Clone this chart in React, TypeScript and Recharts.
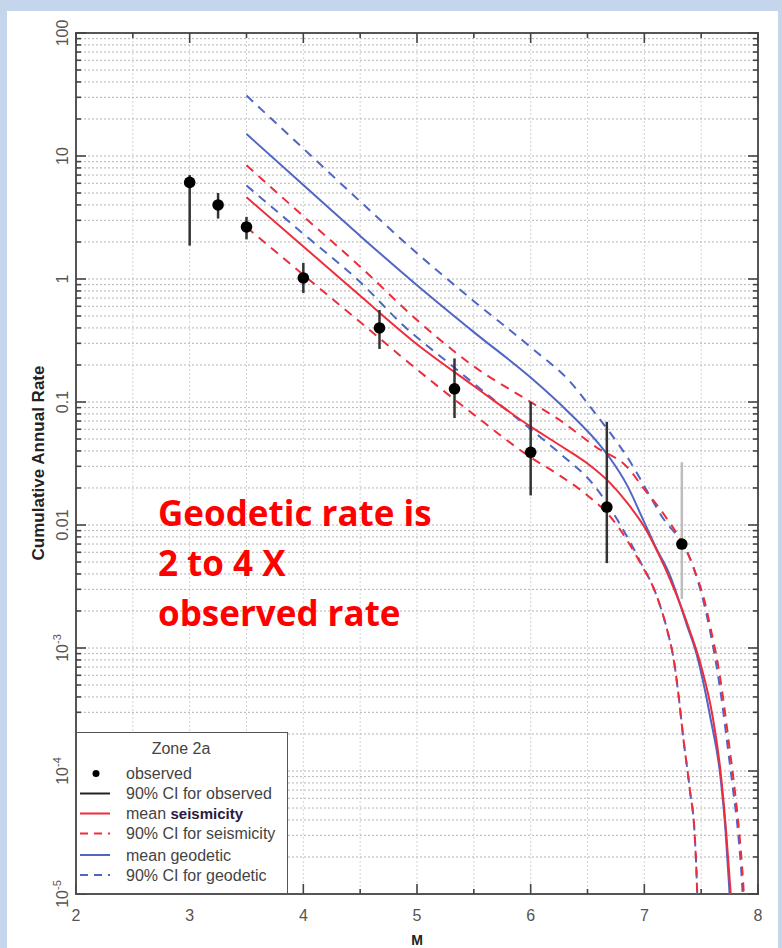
import React from 'react';
import { ComposedChart, Line, Scatter, ErrorBar, XAxis, YAxis, CartesianGrid, ReferenceArea } from 'recharts';

// ---------- data ----------
const OBS_M = [3.0, 3.25, 3.5, 4.0, 4.67, 5.33, 6.0, 6.67, 7.33];
const OBS_RATE = [6.1, 4.0, 2.65, 1.02, 0.4, 0.128, 0.039, 0.014, 0.007];
const OBS_LO = [1.87, 3.1, 2.1, 0.77, 0.27, 0.074, 0.0174, 0.0049, 0.0025];
const OBS_HI = [7.0, 5.0, 3.2, 1.35, 0.56, 0.226, 0.1, 0.069, 0.0324];

const SEIS_MEAN_M = [3.5, 4.0, 4.5, 5.0, 5.5, 6.0, 6.26, 6.5, 6.7, 6.85, 7.02, 7.15, 7.23, 7.33, 7.4, 7.5, 7.6, 7.67, 7.72, 7.76, 7.78];
const SEIS_MEAN = [4.62, 1.84, 0.73, 0.295, 0.135, 0.063, 0.0443, 0.0316, 0.0219, 0.0151, 0.009, 0.0052, 0.00355, 0.00209, 0.00138, 0.00071, 0.00028, 0.0001, 0.000032, 0.00001, 0.000005];

const SEIS_HI_M = [3.5, 4.0, 4.5, 5.0, 5.5, 6.0, 6.26, 6.58, 6.85, 7.0, 7.17, 7.43, 7.53, 7.59, 7.645, 7.695, 7.745, 7.795, 7.84, 7.875, 7.89];
const SEIS_HI = [8.4, 3.24, 1.26, 0.464, 0.195, 0.1, 0.0708, 0.0427, 0.0295, 0.0195, 0.0123, 0.00457, 0.0024, 0.00135, 0.00076, 0.00038, 0.000166, 0.000071, 0.000028, 0.00001, 0.000005];

const SEIS_LO_M = [3.5, 4.0, 4.5, 4.85, 5.5, 6.0, 6.26, 6.5, 6.7, 6.96, 7.11, 7.2, 7.26, 7.3, 7.345, 7.4, 7.445, 7.465, 7.475];
const SEIS_LO = [2.64, 1.08, 0.447, 0.239, 0.079, 0.0355, 0.0251, 0.0174, 0.0117, 0.005, 0.00263, 0.00141, 0.00079, 0.00042, 0.000178, 0.000071, 0.000028, 0.00001, 0.000004];

const GEO_MEAN_M = [3.5, 4.0, 4.5, 5.0, 5.5, 6.0, 6.32, 6.6, 6.7, 6.85, 6.99, 7.1, 7.22, 7.3, 7.37, 7.46, 7.52, 7.58, 7.67, 7.715, 7.75, 7.77];
const GEO_MEAN = [15.1, 5.8, 2.24, 0.89, 0.37, 0.158, 0.085, 0.0457, 0.0347, 0.0209, 0.011, 0.0066, 0.004, 0.0025, 0.00158, 0.00089, 0.00052, 0.000275, 0.000089, 0.000032, 0.00001, 0.000005];

const GEO_HI_M = [3.5, 4.0, 4.5, 5.0, 5.5, 6.0, 6.35, 6.55, 6.85, 7.14, 7.43, 7.52, 7.58, 7.63, 7.68, 7.73, 7.78, 7.83, 7.865, 7.88];
const GEO_HI = [31, 11.5, 4.27, 1.62, 0.66, 0.279, 0.145, 0.085, 0.0356, 0.0123, 0.00457, 0.0024, 0.00135, 0.00076, 0.00038, 0.000166, 0.000071, 0.000028, 0.00001, 0.000005];

const GEO_LO_M = [3.5, 4.0, 4.5, 4.88, 5.3, 5.73, 6.0, 6.26, 6.55, 6.79, 6.96, 7.11, 7.2, 7.26, 7.3, 7.345, 7.4, 7.445, 7.465, 7.475];
const GEO_LO = [5.75, 2.33, 0.944, 0.419, 0.2, 0.095, 0.06, 0.038, 0.0214, 0.01, 0.00513, 0.00263, 0.00141, 0.00079, 0.00042, 0.000178, 0.000071, 0.000028, 0.00001, 0.000004];

const X_TICKS = [2, 2.5, 3, 3.5, 4, 4.5, 5, 5.5, 6, 6.5, 7, 7.5, 8];
const Y_DECADES = [1e-5, 1e-4, 1e-3, 1e-2, 1e-1, 1, 10, 100];
const Y_LABELS = ['10^-5', '10^-4', '10^-3', '0.01', '0.1', '1', '10', '100'];

const LEGEND_TITLE = 'Zone 2a';
const NOTE_LINES = ['Geodetic rate is', '2 to 4 X', 'observed rate'];

// ---------- layout / style ----------
const W = 782;
const H = 948;
const PL = 76;
const PR = 758;
const PT = 33;
const PB = 894;
const RED = '#ee2d3c';
const BLUE = '#5066c4';
const FONT = '"Liberation Sans", Arial, sans-serif';

const toSeries = (ms: number[], rs: number[]) => ms.map((m, i) => ({ m, r: rs[i] }));

const Y_TICKS: number[] = [];
Y_DECADES.forEach((d, i) => {
  Y_TICKS.push(d);
  if (i < Y_DECADES.length - 1) for (let k = 2; k <= 9; k++) Y_TICKS.push(d * k);
});

const obsRows = OBS_M.map((m, i) => ({ m, r: OBS_RATE[i], err: [OBS_RATE[i] - OBS_LO[i], OBS_HI[i] - OBS_RATE[i]] }));
const obsMain = obsRows.slice(0, obsRows.length - 1);
const obsLast = obsRows.slice(obsRows.length - 1);

const isMajor = (v: number) => {
  const l = Math.log10(v);
  return Math.abs(l - Math.round(l)) < 1e-6;
};

const YTick = (props: any) => {
  const { y, payload } = props;
  const v = payload.value;
  const major = isMajor(v);
  const len = major ? 10 : 5;
  let label: React.ReactNode = null;
  if (major) {
    const idx = Math.round(Math.log10(v)) + 5;
    const s = Y_LABELS[idx];
    const lx = 68;
    if (s && s.indexOf('^') >= 0) {
      const [b, e] = s.split('^');
      label = (
        <text x={lx} y={y} transform={`rotate(-90 ${lx} ${y})`} textAnchor="middle" fontSize={16} fill="#555" fontFamily={FONT}>
          <tspan>{b}</tspan>
          <tspan dy={-7} fontSize={11}>{e}</tspan>
        </text>
      );
    } else {
      label = (
        <text x={lx} y={y} transform={`rotate(-90 ${lx} ${y})`} textAnchor="middle" fontSize={16} fill="#555" fontFamily={FONT}>
          {s}
        </text>
      );
    }
  }
  return (
    <g>
      <line x1={PL} x2={PL + len} y1={y} y2={y} stroke="#444" strokeWidth={1.6} />
      <line x1={PR - len} x2={PR} y1={y} y2={y} stroke="#444" strokeWidth={1.6} />
      {label}
    </g>
  );
};

const XTick = (props: any) => {
  const { x, payload } = props;
  const v = payload.value;
  const major = Math.abs(v - Math.round(v)) < 1e-6;
  const len = major ? 10 : 5;
  return (
    <g>
      <line x1={x} x2={x} y1={PB} y2={PB - len} stroke="#444" strokeWidth={1.6} />
      <line x1={x} x2={x} y1={PT} y2={PT + len} stroke="#444" strokeWidth={1.6} />
      {major && (
        <text x={x} y={921} textAnchor="middle" fontSize={16} fill="#555" fontFamily={FONT}>
          {String(v)}
        </text>
      )}
    </g>
  );
};

const Dot = (p: any) => <circle cx={p.cx} cy={p.cy} r={5.8} fill="#000" />;

const legendItems = [
  { label: 'observed', kind: 'dot' },
  { label: '90% CI for observed', kind: 'line', color: '#222', dash: undefined },
  { label: 'mean ', bold: 'seismicity', kind: 'line', color: RED, dash: undefined },
  { label: '90% CI for seismicity', kind: 'line', color: RED, dash: '8 6' },
  { label: 'mean geodetic', kind: 'line', color: BLUE, dash: undefined },
  { label: '90% CI for geodetic', kind: 'line', color: BLUE, dash: '8 6' },
];
const LEGEND_BASELINES = [47, 67, 87, 107, 128.5, 148.5];

export default function App() {
  return (
    <div style={{ position: 'absolute', left: 0, top: 0, width: W, height: H, background: '#c5d5ec', overflow: 'hidden', fontFamily: FONT }}>
      <div style={{ position: 'absolute', left: 7, top: 11, width: 771, height: 937, background: '#ffffff' }} />
      <div style={{ position: 'absolute', left: 0, top: 0 }}>
        <ComposedChart width={W} height={H} margin={{ top: PT, right: W - PR, bottom: 24, left: 16 }}>
          <CartesianGrid horizontal={false} vertical={true} stroke="#d4d4d4" strokeDasharray="2 2" />
          <CartesianGrid horizontal={true} vertical={false} stroke="#b4b4b4" strokeDasharray="2 2" />
          <XAxis
            type="number"
            dataKey="m"
            domain={[2, 8]}
            ticks={X_TICKS}
            interval={0}
            height={30}
            axisLine={false}
            tickLine={false}
            tick={<XTick />}
            allowDataOverflow
          />
          <YAxis
            type="number"
            dataKey="r"
            scale="log"
            domain={[1e-5, 100]}
            ticks={Y_TICKS}
            interval={0}
            width={60}
            axisLine={false}
            tickLine={false}
            tick={<YTick />}
            allowDataOverflow
          />
          <Line data={toSeries(GEO_HI_M, GEO_HI)} dataKey="r" type="monotone" stroke={BLUE} strokeWidth={2} strokeDasharray="9 7" dot={false} isAnimationActive={false} />
          <Line data={toSeries(GEO_LO_M, GEO_LO)} dataKey="r" type="monotone" stroke={BLUE} strokeWidth={2} strokeDasharray="9 7" dot={false} isAnimationActive={false} />
          <Line data={toSeries(GEO_MEAN_M, GEO_MEAN)} dataKey="r" type="monotone" stroke={BLUE} strokeWidth={2} dot={false} isAnimationActive={false} />
          <Line data={toSeries(SEIS_HI_M, SEIS_HI)} dataKey="r" type="monotone" stroke={RED} strokeWidth={2} strokeDasharray="9 7" dot={false} isAnimationActive={false} />
          <Line data={toSeries(SEIS_LO_M, SEIS_LO)} dataKey="r" type="monotone" stroke={RED} strokeWidth={2} strokeDasharray="9 7" dot={false} isAnimationActive={false} />
          <Line data={toSeries(SEIS_MEAN_M, SEIS_MEAN)} dataKey="r" type="monotone" stroke={RED} strokeWidth={2} dot={false} isAnimationActive={false} />
          <Scatter data={obsMain} dataKey="r" shape={<Dot />} isAnimationActive={false}>
            <ErrorBar dataKey="err" direction="y" width={0} stroke="#333" strokeWidth={2.5} isAnimationActive={false} />
          </Scatter>
          <Scatter data={obsLast} dataKey="r" shape={<Dot />} isAnimationActive={false}>
            <ErrorBar dataKey="err" direction="y" width={0} stroke="#bdbdbd" strokeWidth={2.5} isAnimationActive={false} />
          </Scatter>
          <ReferenceArea x1={2} x2={8} y1={1e-5} y2={100} fill="none" fillOpacity={0} stroke="#555" strokeWidth={2} ifOverflow="visible" />
        </ComposedChart>
      </div>

      <svg width={W} height={H} style={{ position: 'absolute', left: 0, top: 0, pointerEvents: 'none' }}>
        <text x={44} y={463} transform="rotate(-90 44 463)" textAnchor="middle" fontSize={17} fontWeight="bold" fill="#222" fontFamily={FONT}>
          Cumulative Annual Rate
        </text>
        <text x={417} y={945} textAnchor="middle" fontSize={14} fontWeight="bold" fill="#222" fontFamily={FONT}>
          M
        </text>
      </svg>

      <div style={{ position: 'absolute', left: PL, top: 732, width: 212, height: PB - 732, background: '#fff', border: '1.5px solid #555', boxSizing: 'border-box' }}>
        <svg width={212} height={162} style={{ position: 'absolute', left: -1.5, top: -1.5 }}>
          <text x={105} y={22} textAnchor="middle" fontSize={16} fill="#444" fontFamily={FONT}>{LEGEND_TITLE}</text>
          {legendItems.map((it: any, i) => {
            const by = LEGEND_BASELINES[i];
            const cy = by - 5.5;
            return (
              <g key={i}>
                {it.kind === 'dot' ? (
                  <circle cx={20} cy={cy} r={3.5} fill="#000" />
                ) : (
                  <line x1={4} x2={34} y1={cy} y2={cy} stroke={it.color} strokeWidth={2} strokeDasharray={it.dash} />
                )}
                <text x={50} y={by} fontSize={16} fill="#444" fontFamily={FONT}>
                  {it.label}
                  {it.bold && <tspan fontWeight="bold" fill="#2a1a40" fontSize={15}>{it.bold}</tspan>}
                </text>
              </g>
            );
          })}
        </svg>
      </div>

      <div style={{ position: 'absolute', left: 158, top: 488, color: '#ff0000', fontFamily: '"Open Sans", sans-serif', fontWeight: 700, fontSize: 35, lineHeight: '50px', whiteSpace: 'nowrap' }}>
        {NOTE_LINES.map((l, i) => (
          <div key={i}>{l}</div>
        ))}
      </div>
    </div>
  );
}
